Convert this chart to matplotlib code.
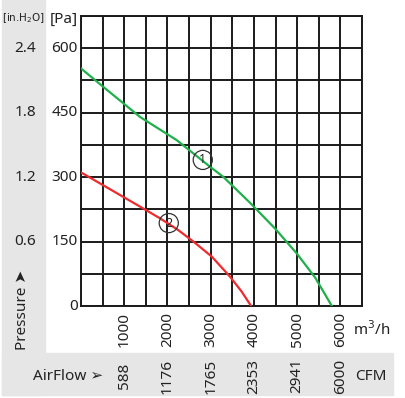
import numpy as np
import matplotlib.pyplot as plt
from matplotlib.patches import Rectangle
import matplotlib.transforms as mtransforms

plt.rcParams['font.family'] = ['Noto Sans', 'DejaVu Sans']

# curve 1 (green) and curve 2 (red): airflow m3/h vs pressure Pa
flow1 = [0, 516, 1366, 2215, 2986, 3287, 3912, 4144, 4491, 4993, 5417, 5803]
pres1 = [553, 510, 440, 386, 324, 301, 240, 216, 180, 122, 66, 0]
flow2 = [0, 1474, 1829, 2245, 2600, 3025, 3449, 3720, 3935]
pres2 = [311, 225, 204, 177, 150, 115, 68, 33, 0]

pa_ticks = [0, 150, 300, 450, 600]
inh2o_labels = ['', '0.6', '1.2', '1.8', '2.4']
m3h_ticks = [1000, 2000, 3000, 4000, 5000, 6000]
cfm_labels = ['588', '1176', '1765', '2353', '2941', '6000']

W, H = 406, 398
fig = plt.figure(figsize=(W / 100, H / 100), dpi=100)

gray = '#e6e6e6'
fig.patches.append(Rectangle((2 / W, (H - 395) / H), 43 / W, 395 / H,
                             transform=fig.transFigure, color=gray, zorder=0))
fig.patches.append(Rectangle((2 / W, (H - 395) / H), 391 / W, 42 / H,
                             transform=fig.transFigure, color=gray, zorder=0))

ax = fig.add_axes([81 / W, (H - 306) / H, 281 / W, 290 / H])
ax.set_xlim(0, 6500)
ax.set_ylim(0, 675)
ax.set_xticks(np.arange(0, 6501, 500))
ax.set_yticks(np.arange(0, 676, 75))
ax.grid(True, color='#1a1a1a', lw=1.4)
ax.tick_params(length=0, labelbottom=False, labelleft=False)
for s in ax.spines.values():
    s.set_color('#1a1a1a')
    s.set_linewidth(1.4)

ax.plot(flow1, pres1, color='#1fb04b', lw=1.6, zorder=3)
ax.plot(flow2, pres2, color='#ee2b2e', lw=1.6, zorder=3)

for num, (cx, cy) in [('1', (2817, 340)), ('2', (2030, 193))]:
    ax.scatter([cx], [cy], s=190, facecolor='none', edgecolor='#333333', lw=0.9, zorder=4)
    ax.text(cx, cy, num, ha='center', va='center', fontsize=9, color='#222222', zorder=5)

txt = '#222222'
fy = lambda py: (H - py) / H
fx = lambda px: px / W

# y labels
ytr = mtransforms.blended_transform_factory(fig.transFigure, ax.transData)
for v, lab in zip(pa_ticks, inh2o_labels):
    fig.text(fx(78), v, str(v), transform=ytr, ha='right', va='center', fontsize=11, color=txt)
    if lab:
        fig.text(fx(25), v, lab, transform=ytr, ha='center', va='center', fontsize=11, color=txt)

fig.text(fx(64), fy(19), '[Pa]', ha='center', va='center', fontsize=11, color=txt)
fig.text(fx(23), fy(18), '[in.H$_2$O]', ha='center', va='center', fontsize=7.5,
         family=['Liberation Sans Narrow', 'DejaVu Sans'], color=txt)
fig.text(fx(22), fy(310), 'Pressure \u27a4', rotation=90, ha='center', va='center',
         fontsize=11, color=txt)

# x labels
xtr = mtransforms.blended_transform_factory(ax.transData, fig.transFigure)
for v, c in zip(m3h_ticks, cfm_labels):
    fig.text(v, fy(312), str(v), transform=xtr, rotation=90, ha='center', va='top',
             fontsize=11, color=txt)
    fig.text(v, fy(376), c, transform=xtr, rotation=90, ha='center', va='center',
             fontsize=11, color=txt)
fig.text(fx(353), fy(330), 'm$^3$/h', ha='left', va='center', fontsize=11, color=txt)
fig.text(fx(355), fy(376), 'CFM', ha='left', va='center', fontsize=11, color=txt)
fig.text(fx(33), fy(376), 'AirFlow \u27a2', ha='left', va='center', fontsize=11, color=txt)

fig.savefig('out.png', dpi=100)
